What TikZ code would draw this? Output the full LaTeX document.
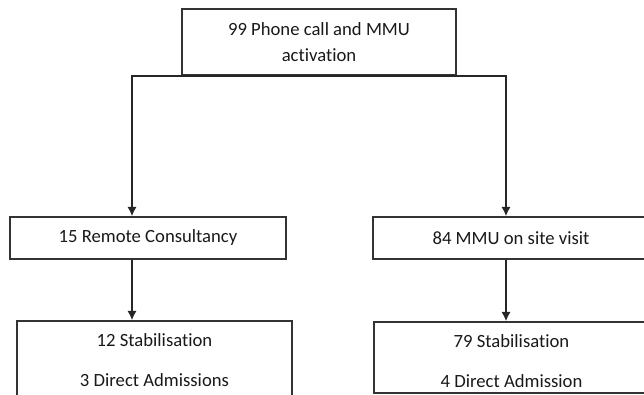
\documentclass[tikz,border=0pt]{standalone}
\usepackage{fontspec}
\setmainfont{Carlito}[Ligatures=NoCommon]
\usetikzlibrary{arrows.meta}

\tikzset{
	flowbox/.style={draw=black!80,line width=1.2pt,rectangle,inner sep=0pt,
		text=black!90,align=center},
	flowarrow/.style={line width=1.2pt,draw=black!85,-{Latex[length=7pt,width=7pt]}}
}

\begin{document}
\begin{tikzpicture}[x=0.75pt,y=-0.75pt]
	\useasboundingbox (0,0) rectangle (644,395);
	\clip (0,0) rectangle (644,395);
	
	\node[flowbox,minimum width=205.5pt,minimum height=49.5pt,
		font=\fontsize{14}{19.5}\selectfont] (call) at (319,42) {
		99 Phone call and MMU\\
		activation
	};
	
	\node[flowbox,minimum width=207pt,minimum height=31.5pt,
		font=\fontsize{14}{15}\selectfont] (remote) at (148,238) {15 Remote Consultancy};
	
	\node[flowbox,minimum width=207pt,minimum height=31.5pt,
		font=\fontsize{14}{15}\selectfont] (onsite) at (511,238) {84 MMU on site visit};
	
	\node[flowbox,minimum width=206.25pt,minimum height=58.5pt,
		font=\fontsize{14}{30}\selectfont] (remoteout) at (154.5,360) {
		12 Stabilisation\\
		3 Direct Admissions
	};
	
	\node[flowbox,minimum width=206.25pt,minimum height=53.25pt,
		font=\fontsize{14}{29.5}\selectfont] (onsiteout) at (511.5,357.5) {
		\rule{0pt}{15pt}79 Stabilisation\\
		4 Direct Admission
	};
	
	% split from the call box
	\draw[flowarrow] (call.south) -| ([xshift=-12pt]remote.north);
	\draw[flowarrow] (call.south) -| ([xshift=-3.75pt]onsite.north);
	
	% outcomes
	\draw[flowarrow] ([xshift=-12pt]remote.south) -- ([xshift=-12pt]remote.south |- remoteout.north);
	\draw[flowarrow] ([xshift=-3.75pt]onsite.south) -- ([xshift=-3.75pt]onsite.south |- onsiteout.north);
\end{tikzpicture}
\end{document}
